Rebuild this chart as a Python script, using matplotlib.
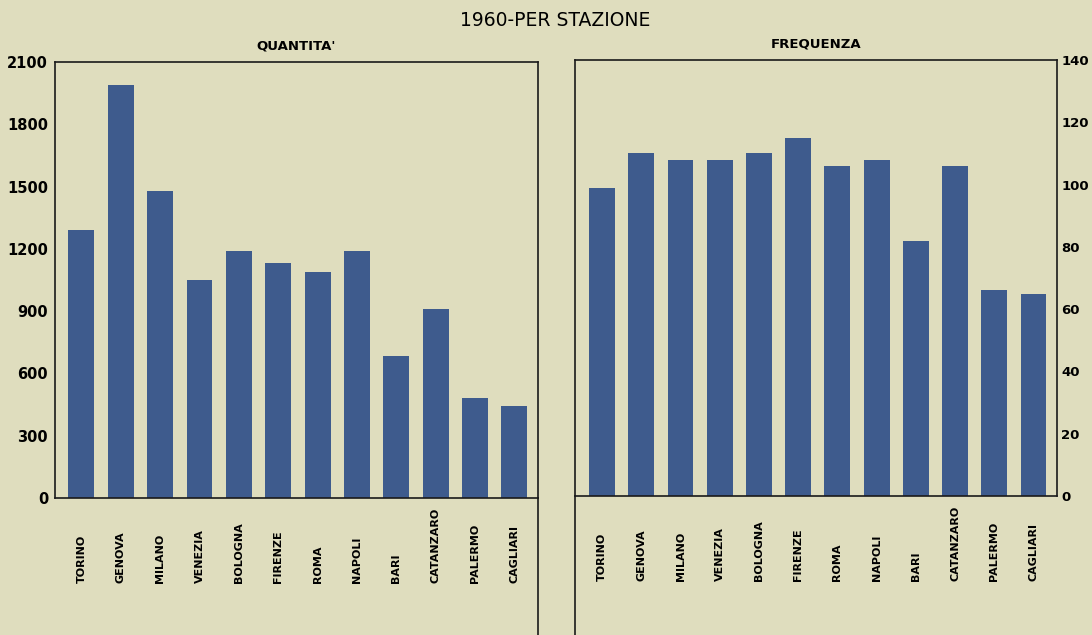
import matplotlib
matplotlib.use('Agg')
import matplotlib.pyplot as plt
import matplotlib.transforms as mtransforms
from matplotlib.lines import Line2D

# Dati 1960 per stazione
stazioni = ['TORINO', 'GENOVA', 'MILANO', 'VENEZIA', 'BOLOGNA', 'FIRENZE',
            'ROMA', 'NAPOLI', 'BARI', 'CATANZARO', 'PALERMO', 'CAGLIARI']
quantita = [1290, 1990, 1480, 1050, 1190, 1130, 1090, 1190, 685, 910, 483, 444]
frequenza = [99, 110, 108, 108, 110, 115, 106, 108, 82, 106, 66, 65]

quantita_ticks = [0, 300, 600, 900, 1200, 1500, 1800, 2100]
frequenza_ticks = [0, 20, 40, 60, 80, 100, 120, 140]

sfondo = '#dfddbe'
blu = '#3e5b8d'

fig = plt.figure(figsize=(10.92, 6.35), dpi=100, facecolor=sfondo)

ax1 = fig.add_axes([0.0504, 0.2157, 0.4423, 0.6866], facecolor=sfondo)
ax2 = fig.add_axes([0.5266, 0.2189, 0.4414, 0.6866], facecolor=sfondo)

x = list(range(len(stazioni)))

# Quantita'
ax1.bar(x, quantita, width=0.66, color=blu)
ax1.set_xlim(-0.67, 11.6)
ax1.set_ylim(0, 2100)
ax1.set_yticks(quantita_ticks)
ax1.set_yticklabels([str(t) for t in quantita_ticks], fontsize=10.5, fontweight='bold')
ax1.tick_params(axis='y', length=0, pad=5)
ax1.set_title("QUANTITA'", fontsize=9.5, fontweight='bold', pad=9)

# Frequenza
ax2.bar(x, frequenza, width=0.66, color=blu)
ax2.set_xlim(-0.69, 11.6)
ax2.set_ylim(0, 140)
ax2.yaxis.tick_right()
ax2.set_yticks(frequenza_ticks)
ax2.set_yticklabels([str(t) for t in frequenza_ticks], fontsize=9.5, fontweight='bold')
ax2.tick_params(axis='y', length=0, pad=3)
ax2.set_title('FREQUENZA', fontsize=9.5, fontweight='bold', pad=9)

for ax in (ax1, ax2):
    ax.set_xticks([])
    for s in ax.spines.values():
        s.set_linewidth(1.2)
        s.set_color('#1a1a1a')
    trans = mtransforms.blended_transform_factory(ax.transData, ax.transAxes)
    for i, nome in enumerate(stazioni):
        ax.text(i, -0.195, nome, transform=trans, rotation=90,
                ha='center', va='bottom', fontsize=8, fontweight='bold')

# linee verticali che scendono fino al bordo
fig.add_artist(Line2D([0.4927, 0.4927], [0.0, 0.2157], color='#1a1a1a', lw=1.2))
fig.add_artist(Line2D([0.5266, 0.5266], [0.0, 0.2189], color='#1a1a1a', lw=1.2))

fig.text(0.508, 0.967, '1960-PER STAZIONE', ha='center', va='center', fontsize=13.5)

fig.savefig('out.png', dpi=100, facecolor=sfondo)
